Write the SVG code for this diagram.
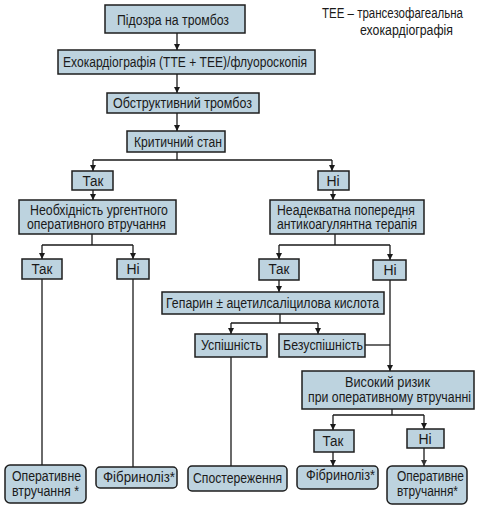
<svg xmlns="http://www.w3.org/2000/svg" width="478" height="531" viewBox="0 0 478 531">
<style>
.b{fill:#bdd3df;stroke:#1e1e1e;stroke-width:1.5}
.t{font-family:"Liberation Sans",Arial,sans-serif;font-size:14px;fill:#1a1a1a}
.c{text-anchor:middle}
.l{fill:none;stroke:#1a1a1a;stroke-width:1.3}
.g{fill:none;stroke:#6a6a6a;stroke-width:2}
</style>
<defs>
<marker id="a" markerUnits="userSpaceOnUse" markerWidth="6" markerHeight="6" refX="6" refY="3" orient="auto">
<path d="M0,0 L6,3 L0,6 z" fill="#1a1a1a"/>
</marker>
<marker id="ag" markerUnits="userSpaceOnUse" markerWidth="6" markerHeight="6" refX="6" refY="3" orient="auto">
<path d="M0,0 L6,3 L0,6 z" fill="#333"/>
</marker>
</defs>
<rect width="478" height="531" fill="#fff"/>
<g id="connectors">
<path class="l" d="M177,33V50" marker-end="url(#a)"/>
<path class="l" d="M177,74V93" marker-end="url(#a)"/>
<path class="l" d="M177,113V131" marker-end="url(#a)"/>
<path class="l" d="M177,152V160M93,160H332"/>
<path class="l" d="M93,160V171" marker-end="url(#a)"/>
<path class="l" d="M332,160V171" marker-end="url(#a)"/>
<path class="l" d="M93,190V200" marker-end="url(#a)"/>
<path class="l" d="M333,190V200" marker-end="url(#a)"/>
<path class="l" d="M92,234V245M42,245H133"/>
<path class="l" d="M42,245V259" marker-end="url(#a)"/>
<path class="l" d="M133,245V259" marker-end="url(#a)"/>
<path class="l" d="M335,234V245M279,245H390"/>
<path class="l" d="M279,245V259" marker-end="url(#a)"/>
<path class="l" d="M390,245V260" marker-end="url(#a)"/>
<path class="l" d="M279,280V292" marker-end="url(#a)"/>
<path class="l" d="M280,314V323M231,323H318"/>
<path class="l" d="M231,323V334" marker-end="url(#a)"/>
<path class="l" d="M318,323V334" marker-end="url(#a)"/>
<path class="l" d="M365,345H390"/>
<path class="l" d="M390,280V371" marker-end="url(#a)"/>
<path class="g" d="M42,279V465"/>
<path class="g" d="M133,279V467"/>
<path class="l" d="M231,357V466"/>
<path class="l" d="M392,409V415M333,415H424"/>
<path class="l" d="M333,415V430" marker-end="url(#a)"/>
<path class="l" d="M424,415V429" marker-end="url(#a)"/>
<path class="l" d="M333,452V466" marker-end="url(#a)"/>
<path class="g" d="M424,448V466" marker-end="url(#ag)"/>
</g>
<g id="legend">
<text class="t" x="322" y="18" textLength="141" lengthAdjust="spacingAndGlyphs">ТЕЕ – трансезофагеальна</text>
<text class="t" x="360" y="35" textLength="93" lengthAdjust="spacingAndGlyphs">ехокардіографія</text>
</g>
<g id="n1"><rect class="b" x="105" y="5" width="140" height="28"/>
<text class="t" x="117" y="25" textLength="112" lengthAdjust="spacingAndGlyphs">Підозра на тромбоз</text></g>
<g id="n2"><rect class="b" x="58" y="50" width="257" height="24"/>
<text class="t" x="63" y="67" textLength="244" lengthAdjust="spacingAndGlyphs">Ехокардіографія (ТТЕ + ТЕЕ)/флуороскопія</text></g>
<g id="n3"><rect class="b" x="107" y="93" width="152" height="20"/>
<text class="t" x="113" y="108" textLength="139" lengthAdjust="spacingAndGlyphs">Обструктивний тромбоз</text></g>
<g id="n4"><rect class="b" x="127" y="131" width="98" height="21"/>
<text class="t" x="134" y="147" textLength="88" lengthAdjust="spacingAndGlyphs">Критичний стан</text></g>
<g id="n5"><rect class="b" x="72" y="171" width="41" height="19"/>
<text class="t c" x="93" y="186" textLength="21" lengthAdjust="spacingAndGlyphs">Так</text></g>
<g id="n6"><rect class="b" x="318" y="171" width="31" height="19"/>
<text class="t c" x="333" y="186">Ні</text></g>
<g id="n7"><rect class="b" x="19" y="200" width="157" height="34"/>
<text class="t" x="30" y="215" textLength="138" lengthAdjust="spacingAndGlyphs">Необхідність ургентного</text>
<text class="t" x="27" y="229" textLength="139" lengthAdjust="spacingAndGlyphs">оперативного втручання</text></g>
<g id="n8"><rect class="b" x="270" y="200" width="154" height="34"/>
<text class="t" x="277" y="215" textLength="138" lengthAdjust="spacingAndGlyphs">Неадекватна попередня</text>
<text class="t" x="277" y="229" textLength="140" lengthAdjust="spacingAndGlyphs">антикоагулянтна терапія</text></g>
<g id="n9"><rect class="b" x="22" y="259" width="40" height="20"/>
<text class="t c" x="42" y="274" textLength="21" lengthAdjust="spacingAndGlyphs">Так</text></g>
<g id="n10"><rect class="b" x="117" y="259" width="32" height="20"/>
<text class="t c" x="133" y="274">Ні</text></g>
<g id="n11"><rect class="b" x="259" y="259" width="40" height="21"/>
<text class="t c" x="279" y="274" textLength="21" lengthAdjust="spacingAndGlyphs">Так</text></g>
<g id="n12"><rect class="b" x="373" y="260" width="33" height="20"/>
<text class="t c" x="390" y="275">Ні</text></g>
<g id="n13"><rect class="b" x="162" y="292" width="222" height="22"/>
<text class="t" x="166" y="308" textLength="213" lengthAdjust="spacingAndGlyphs">Гепарин ± ацетилсаліцилова кислота</text></g>
<g id="n14"><rect class="b" x="195" y="334" width="72" height="23"/>
<text class="t" x="201" y="350" textLength="61" lengthAdjust="spacingAndGlyphs">Успішність</text></g>
<g id="n15"><rect class="b" x="279" y="334" width="86" height="23"/>
<text class="t" x="283" y="350" textLength="80" lengthAdjust="spacingAndGlyphs">Безуспішність</text></g>
<g id="n16"><rect class="b" x="302" y="371" width="172" height="38"/>
<text class="t" x="345" y="387" textLength="85" lengthAdjust="spacingAndGlyphs">Високий ризик</text>
<text class="t" x="308" y="402" textLength="163" lengthAdjust="spacingAndGlyphs">при оперативному втручанні</text></g>
<g id="n17"><rect class="b" x="314" y="430" width="40" height="22"/>
<text class="t c" x="333" y="446" textLength="21" lengthAdjust="spacingAndGlyphs">Так</text></g>
<g id="n18"><rect class="b" x="407" y="429" width="37" height="19"/>
<text class="t c" x="425" y="444">Ні</text></g>
<g id="n19"><rect class="b" x="5" y="465" width="81" height="38" rx="5"/>
<text class="t" x="12" y="481" textLength="69" lengthAdjust="spacingAndGlyphs">Оперативне</text>
<text class="t" x="12" y="496" textLength="67" lengthAdjust="spacingAndGlyphs">втручання *</text></g>
<g id="n20"><rect class="b" x="96" y="467" width="81" height="21" rx="4"/>
<text class="t" x="103" y="482" textLength="72" lengthAdjust="spacingAndGlyphs">Фібриноліз*</text></g>
<g id="n21"><rect class="b" x="188" y="466" width="99" height="25" rx="4"/>
<text class="t" x="193" y="483" textLength="89" lengthAdjust="spacingAndGlyphs">Спостереження</text></g>
<g id="n22"><rect class="b" x="297" y="466" width="81" height="23" rx="4"/>
<text class="t" x="306" y="480" textLength="69" lengthAdjust="spacingAndGlyphs">Фібриноліз*</text></g>
<g id="n23"><rect class="b" x="387" y="466" width="80" height="38" rx="5"/>
<text class="t" x="397" y="481" textLength="67" lengthAdjust="spacingAndGlyphs">Оперативне</text>
<text class="t" x="397" y="496" textLength="61" lengthAdjust="spacingAndGlyphs">втручання*</text></g>
</svg>
